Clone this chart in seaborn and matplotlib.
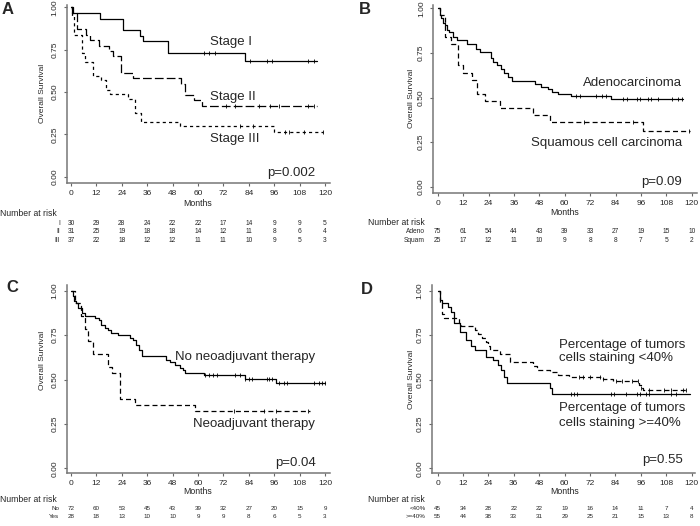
import numpy as np
import matplotlib
matplotlib.use('Agg')
import matplotlib.pyplot as plt
import matplotlib.transforms as mtransforms
import seaborn as sns

# ---- shared axis values ----
month_ticks = [0, 12, 24, 36, 48, 60, 72, 84, 96, 108, 120]
surv_ticks = [0.0, 0.25, 0.50, 0.75, 1.0]

# ---- panel A: stage ----
stage1_t = [0, 0.5, 13.5, 24.5, 32.5, 34, 46, 82, 116]
stage1_s = [1.0, 0.967, 0.933, 0.867, 0.833, 0.80, 0.733, 0.683, 0.683]
stage1_cens = [63, 65, 68, 84.5, 92.5, 95, 112, 115]

stage2_t = [0, 1, 3, 7, 9, 13, 18, 20, 23.5, 29.5, 52, 54, 58, 62, 116]
stage2_s = [1.0, 0.968, 0.871, 0.839, 0.806, 0.774, 0.742, 0.71, 0.613, 0.581, 0.548, 0.484, 0.452, 0.42, 0.42]
stage2_cens = [73, 77.5, 89, 94, 98.5, 112, 115]

stage3_t = [0, 0.5, 1.5, 5, 6.5, 10.5, 14, 16.5, 18.5, 27, 30, 33, 51.5, 96, 119]
stage3_s = [1.0, 0.946, 0.838, 0.73, 0.676, 0.595, 0.568, 0.514, 0.486, 0.459, 0.378, 0.324, 0.297, 0.265, 0.265]
stage3_cens = [80, 86, 101, 103, 110, 119]

risk_a_labels = ['I', 'II', 'III']
risk_a = [[30, 29, 28, 24, 22, 22, 17, 14, 9, 9, 5],
          [31, 25, 19, 18, 18, 14, 12, 11, 8, 6, 4],
          [37, 22, 18, 12, 12, 11, 11, 10, 9, 5, 3]]

# ---- panel B: histology ----
adeno_t = [0, 1, 1.5, 2.5, 3.5, 4.5, 5.5, 7, 9, 14, 18, 20, 25, 26, 28, 30, 31.5,
           33, 35, 46, 49, 52, 54, 57, 63, 82, 116]
adeno_s = [1.0, 0.96, 0.945, 0.92, 0.907, 0.88, 0.865, 0.84, 0.82, 0.80, 0.773,
           0.753, 0.72, 0.70, 0.68, 0.66, 0.64, 0.613, 0.59, 0.573, 0.56, 0.547,
           0.533, 0.52, 0.507, 0.493, 0.493]
adeno_cens = [65.5, 67, 75, 77.5, 79.5, 87.5, 89.5, 94, 95.5, 99.5, 101, 104, 110.5, 113.5, 115.5]

squam_t = [0, 1, 3.5, 6.5, 9.5, 12, 16, 18.5, 22.5, 29.5, 45, 53, 97, 119]
squam_s = [1.0, 0.96, 0.84, 0.80, 0.68, 0.64, 0.60, 0.52, 0.48, 0.44, 0.40, 0.36, 0.315, 0.315]
squam_cens = [69, 92.5, 118.5]

risk_b_labels = ['Adeno', 'Squam']
risk_b = [[75, 61, 54, 44, 43, 39, 33, 27, 19, 15, 10],
          [25, 17, 12, 11, 10, 9, 8, 8, 7, 5, 2]]

# ---- panel C: neoadjuvant therapy ----
noneo_t = [0, 1, 1.5, 2.5, 3.5, 5, 6.5, 11.5, 13, 14, 16, 17.5, 19, 22, 28, 29.5,
           30.5, 32, 33.5, 45, 47, 49, 51.5, 53, 54, 63, 82, 97, 120]
noneo_s = [1.0, 0.97, 0.944, 0.93, 0.903, 0.875, 0.86, 0.847, 0.833, 0.806, 0.792,
           0.778, 0.764, 0.75, 0.736, 0.722, 0.694, 0.667, 0.635, 0.61, 0.596, 0.58,
           0.566, 0.552, 0.538, 0.524, 0.505, 0.482, 0.482]
noneo_cens = [63.5, 65, 67, 69, 77.5, 80, 82, 84, 85.5, 92.5, 93.5, 95, 98.5, 100.5, 102, 115, 117, 118.5, 120]

neo_t = [0, 2, 4.5, 6.5, 8, 10.5, 17.5, 19.5, 23, 30, 58.5, 113]
neo_s = [1.0, 0.929, 0.857, 0.786, 0.714, 0.643, 0.571, 0.536, 0.393, 0.357, 0.32, 0.32]
neo_cens = [77, 91, 97, 112]

risk_c_labels = ['No', 'Yes']
risk_c = [[72, 60, 53, 45, 43, 39, 32, 27, 20, 15, 9],
          [28, 18, 13, 10, 10, 9, 9, 8, 6, 5, 3]]

# ---- panel D: staining ----
low_t = [0, 1, 2, 3, 10, 11, 17.5, 19, 21, 23, 24, 25, 29.5, 34, 45, 47, 53, 57,
         62, 78, 83, 95, 96, 97, 118]
low_s = [1.0, 0.93, 0.87, 0.845, 0.82, 0.80, 0.78, 0.755, 0.733, 0.71, 0.69, 0.665,
         0.645, 0.60, 0.575, 0.555, 0.545, 0.525, 0.515, 0.505, 0.49, 0.47, 0.45,
         0.44, 0.44]
low_cens = [67, 68.5, 72, 76.5, 78, 84.5, 87, 92, 94.5, 96, 100, 107, 110, 116, 117.5]

high_t = [0, 1, 2, 5, 6.5, 8, 10.5, 13.5, 16, 17.5, 23, 26, 28.5, 30, 31.5, 33, 53, 54, 119]
high_s = [1.0, 0.947, 0.93, 0.91, 0.88, 0.82, 0.765, 0.72, 0.69, 0.665, 0.625, 0.61,
          0.58, 0.553, 0.516, 0.48, 0.45, 0.418, 0.418]
high_cens = [63, 64.5, 66, 82, 83.5, 89, 94, 95.5, 98.5, 100, 110, 112.5]

risk_d_labels = ['<40%', '>=40%']
risk_d = [[45, 34, 28, 22, 22, 19, 16, 14, 11, 7, 4],
          [55, 44, 38, 33, 31, 29, 25, 21, 15, 13, 8]]

W, H = 700, 526
sns.set_style('ticks')
plt.rcParams['font.family'] = ['Liberation Sans', 'DejaVu Sans']

fig = plt.figure(figsize=(W / 100, H / 100), dpi=100)


def fx(px):
    return px / W


def fy(py):
    return 1 - py / H


def make_axes(left, right, top, bottom, x0, x120, y1, y0):
    # axes placed in pixel coordinates, limits from the tick pixel positions
    ax = fig.add_axes([fx(left), fy(bottom), (right - left) / W, (bottom - top) / H])
    ppx = (x120 - x0) / 120
    ppy = (y0 - y1)
    ax.set_xlim((left - x0) / ppx, (right - x0) / ppx)
    ax.set_ylim((y0 - bottom) / ppy, (y0 - top) / ppy)
    ax.set_xticks(month_ticks)
    ax.set_xticklabels([str(m) for m in month_ticks])
    ax.set_yticks(surv_ticks)
    ax.set_yticklabels([f'{v:.2f}' for v in surv_ticks], rotation=90, va='center')
    ax.tick_params(axis='x', labelsize=6, length=2.5, pad=2.5, color='#666666', width=0.8)
    ax.tick_params(axis='y', labelsize=6, length=2.5, pad=3.5, color='#666666', width=0.8)
    sns.despine(ax=ax)
    for sp in ['left', 'bottom']:
        ax.spines[sp].set_color('#777777')
        ax.spines[sp].set_linewidth(1.1)
    ax.set_xlabel('')
    ax.set_ylabel('')
    return ax


def km(ax, t, s, cens, ls):
    sns.lineplot(x=t, y=s, drawstyle='steps-post', color='black', linewidth=0.9,
                 linestyle=ls, estimator=None, errorbar=None, legend=False, ax=ax)
    idx = np.searchsorted(np.array(t), np.array(cens), side='right') - 1
    sns.scatterplot(x=cens, y=np.array(s)[idx], marker='|', s=12, color='black',
                    linewidth=0.6, legend=False, ax=ax)
    ax.set_xlabel('')
    ax.set_ylabel('')


def risk_table(ax, labels, rows, label_right, nar_x, nar_y, ha, row_y, size):
    tr = mtransforms.blended_transform_factory(ax.transData, fig.transFigure)
    fig.text(fx(nar_x), fy(nar_y), 'Number at risk', fontsize=6.2, ha=ha, va='center')
    for lab, vals, y in zip(labels, rows, row_y):
        fig.text(fx(label_right), fy(y), lab, fontsize=size, ha='right', va='center')
        for m, v in zip(month_ticks, vals):
            ax.text(m, fy(y), str(v), transform=tr, fontsize=size, ha='center', va='center')


dash_long = (0, (7, 2.5))
dash_mid = (0, (4, 2.5))
dash_short = (0, (2.5, 2.5))

# panel A
axA = make_axes(67, 330, 5, 182.7, 71, 325, 7.3, 176.7)
km(axA, stage1_t, stage1_s, stage1_cens, '-')
km(axA, stage2_t, stage2_s, stage2_cens, dash_long)
km(axA, stage3_t, stage3_s, stage3_cens, dash_short)
fig.text(fx(210), fy(42), 'Stage I', fontsize=9.5, va='center')
fig.text(fx(210), fy(97), 'Stage II', fontsize=9.5, va='center')
fig.text(fx(210), fy(139), 'Stage III', fontsize=9.5, va='center')
fig.text(fx(315), fy(173), 'p=0.002', fontsize=9.5, ha='right', va='center')
fig.text(fx(43), fy(93), 'Overall Survival', fontsize=6, rotation=90, ha='center', va='center')
fig.text(fx(198), fy(203), 'Months', fontsize=6.3, ha='center', va='center')
fig.text(fx(2), fy(10), 'A', fontsize=12, fontweight='bold', va='center')
risk_table(axA, risk_a_labels, risk_a, 60, 0, 213.3, 'left', [223.3, 231.7, 240.7], 4.8)

# panel B
axB = make_axes(433.3, 696.7, 5, 193.3, 437.7, 691.7, 8.3, 186.7)
km(axB, adeno_t, adeno_s, adeno_cens, '-')
km(axB, squam_t, squam_s, squam_cens, dash_mid)
fig.text(fx(682), fy(82.7), 'Adenocarcinoma', fontsize=9.5, ha='right', va='center')
fig.text(fx(682), fy(142.7), 'Squamous cell carcinoma', fontsize=9.5, ha='right', va='center')
fig.text(fx(682), fy(181.7), 'p=0.09', fontsize=9.5, ha='right', va='center')
fig.text(fx(411.7), fy(98), 'Overall Survival', fontsize=6, rotation=90, ha='center', va='center')
fig.text(fx(565), fy(212.3), 'Months', fontsize=6.3, ha='center', va='center')
fig.text(fx(359), fy(10), 'B', fontsize=12, fontweight='bold', va='center')
risk_table(axB, risk_b_labels, risk_b, 425, 425, 222.7, 'right', [231.7, 241], 4.8)

# panel C
axC = make_axes(67, 330, 285, 473.3, 71, 325, 290.7, 468.3)
km(axC, noneo_t, noneo_s, noneo_cens, '-')
km(axC, neo_t, neo_s, neo_cens, dash_mid)
fig.text(fx(315), fy(357.3), 'No neoadjuvant therapy', fontsize=9.5, ha='right', va='center')
fig.text(fx(315), fy(424), 'Neoadjuvant therapy', fontsize=9.5, ha='right', va='center')
fig.text(fx(316), fy(463.3), 'p=0.04', fontsize=9.5, ha='right', va='center')
fig.text(fx(43), fy(360.7), 'Overall Survival', fontsize=6, rotation=90, ha='center', va='center')
fig.text(fx(198), fy(491.7), 'Months', fontsize=6.3, ha='center', va='center')
fig.text(fx(6), fy(288), 'C', fontsize=12, fontweight='bold', va='center')
risk_table(axC, risk_c_labels, risk_c, 59, 0, 499.5, 'left', [508.5, 516.5], 4.5)

# panel D
axD = make_axes(431.7, 695, 285, 473.3, 437.5, 691.7, 290.7, 468.3)
km(axD, low_t, low_s, low_cens, dash_mid)
km(axD, high_t, high_s, high_cens, '-')
fig.text(fx(559), fy(345), 'Percentage of tumors', fontsize=9.5, va='center')
fig.text(fx(559), fy(358.3), 'cells staining <40%', fontsize=9.5, va='center')
fig.text(fx(559), fy(408.3), 'Percentage of tumors', fontsize=9.5, va='center')
fig.text(fx(559), fy(423.3), 'cells staining >=40%', fontsize=9.5, va='center')
fig.text(fx(683), fy(460), 'p=0.55', fontsize=9.5, ha='right', va='center')
fig.text(fx(411.7), fy(379), 'Overall Survival', fontsize=6, rotation=90, ha='center', va='center')
fig.text(fx(565), fy(491.7), 'Months', fontsize=6.3, ha='center', va='center')
fig.text(fx(361), fy(290), 'D', fontsize=12, fontweight='bold', va='center')
risk_table(axD, risk_d_labels, risk_d, 426, 425, 499.5, 'right', [508.5, 516.5], 4.5)

fig.savefig('out.png', dpi=100)
